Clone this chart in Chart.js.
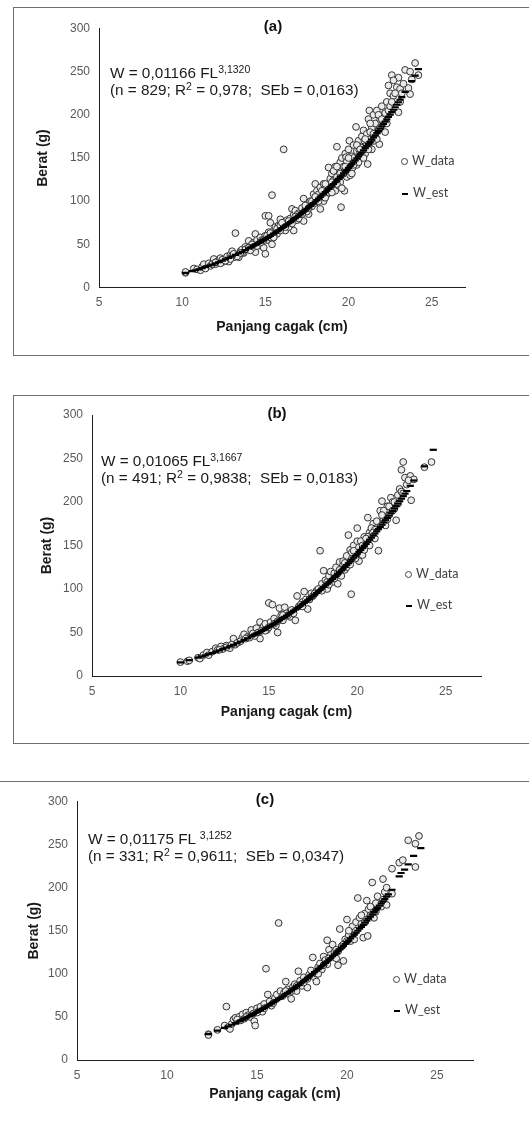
<!DOCTYPE html>
<html><head><meta charset="utf-8">
<script src="https://cdn.jsdelivr.net/npm/chart.js@4.4.1/dist/chart.umd.min.js"></script>
<style>
body{margin:0;background:#fff;width:529px;height:1123px;position:relative;overflow:hidden;font-family:"Liberation Sans",Arial,sans-serif;}
canvas{position:absolute;left:0;}
.box{position:absolute;border:1px solid #6e6e6e;}
.ttl{position:absolute;width:100px;text-align:center;font-weight:bold;font-size:15px;line-height:18px;color:#111;}
.ann{position:absolute;font-size:15.3px;line-height:17px;color:#1a1a1a;white-space:pre;}
.ann sup{font-size:10.5px;line-height:0;vertical-align:5px;}
.leg{position:absolute;font-family:Lato,"Open Sans",sans-serif;font-size:12.5px;color:#404040;line-height:16px;white-space:nowrap;}
.dot{display:inline-block;width:5px;height:5px;border:1px solid #404040;border-radius:50%;background:#fff;margin-right:4px;vertical-align:middle;}
.dash{display:inline-block;width:6px;height:2px;background:#000;margin-right:5px;vertical-align:middle;}
</style></head>
<body>
<div class="box" style="left:13px;top:7px;width:540px;height:347px;"></div>
<div class="box" style="left:13px;top:395px;width:540px;height:347px;"></div>
<div class="box" style="left:-5px;top:781px;width:560px;height:0;border-left:none;border-right:none;border-bottom:none;"></div>
<canvas id="cA" width="529" height="360" style="top:0px"></canvas>
<canvas id="cB" width="529" height="365" style="top:380px"></canvas>
<canvas id="cC" width="529" height="363" style="top:760px"></canvas>
<div id="overlay"></div>
<script>
// ---------- data ----------
const xTicks = [5, 10, 15, 20, 25];
const yTicks = [0, 50, 100, 150, 200, 250, 300];
const xTitle = 'Panjang cagak (cm)';
const yTitle = 'Berat (g)';
const panelTitles = ['(a)', '(b)', '(c)'];
const eqLines = ['W = 0,01166 FL', 'W = 0,01065 FL', 'W = 0,01175 FL '];
const eqExponents = ['3,1320', '3,1667', '3,1252'];
const statN = ['829', '491', '331'];
const statR2 = ['0,978', '0,9838', '0,9611'];
const statSEb = ['0,0163', '0,0183', '0,0347'];
const legendLabels = ['W_data', 'W_est'];

// Panel (a)
const aLen = [10.2,10.2,10.7,10.9,11.1,11.2,11.3,11.4,11.6,11.7,11.9,12.0,12.1,12.2,12.3,12.5,12.6,12.7,12.8,12.9,
13.0,13.1,13.2,13.3,13.4,13.5,13.6,13.7,13.8,13.9,14.0,14.1,14.2,14.3,14.4,14.4,14.5,14.6,14.7,14.8,
14.9,15.0,15.0,15.0,15.1,15.2,15.2,15.3,15.3,15.4,15.4,15.5,15.6,15.7,15.8,15.9,16.0,16.1,16.1,16.2,
16.3,16.4,16.5,16.6,16.7,16.7,16.8,16.9,17.0,17.1,17.2,17.3,17.3,17.4,17.5,17.6,17.7,17.8,17.9,18.0,
18.0,18.1,18.2,18.3,18.3,18.4,18.5,18.5,18.6,18.7,18.8,18.8,18.9,19.0,19.0,19.1,19.2,19.2,19.3,19.3,
19.4,19.4,19.5,19.5,19.55,19.6,19.6,19.7,19.75,19.8,19.85,19.9,20.0,20.0,20.05,20.1,20.2,20.25,20.3,20.4,
20.45,20.5,20.5,20.6,20.65,20.7,20.8,20.8,20.9,20.95,21.0,21.1,21.15,21.2,21.25,21.3,21.4,21.5,21.55,21.6,
21.7,21.8,21.85,21.9,22.0,22.1,22.2,22.2,22.3,22.4,22.4,22.5,22.6,22.7,22.9,23.0,23.0,23.1,23.2,23.4,
23.6,23.7,23.7,23.8,24.0,24.2,
19.0,19.3,19.7,19.9,20.1,20.3,20.6,20.9,21.1,21.3,21.4,21.6,21.9,22.1,18.1,18.6,17.5,16.9,16.4,15.9,
15.5,14.8,14.2,13.6,13.0,12.4,11.8,
12.0,12.3,12.6,12.9,13.1,13.3,13.5,13.8,14.0,14.1,14.3,14.5,14.7,14.9,15.1,15.3,15.5,15.7,15.9,16.0,
16.2,16.4,16.6,16.8,17.0,17.2,17.4,17.6,17.8,18.0,18.2,18.4,18.6,18.8,19.0,19.1,19.3,19.5,19.6,19.8,
20.0,20.2,20.3,20.5,20.7,20.9,21.0,21.2,21.3,21.5,21.7,21.8,22.0,22.3,22.5,22.6,22.8,23.1,23.3,22.7];
const aWt = [17,18,22,21,20,24,27,22,28,25,33,27,30,31,34,30,33,36,30,38,
42,35,63,38,35,42,44,40,47,45,54,48,44,52,62,41,55,50,58,48,
46,39,83,60,55,83,64,75,58,107,50,66,70,62,72,79,68,160,73,66,
78,72,80,91,66,84,89,78,86,80,92,103,77,90,96,85,100,94,108,120,
98,112,108,91,116,104,120,100,114,108,139,118,126,116,132,124,140,112,163,128,
135,118,145,122,93,150,130,140,112,155,151,128,160,138,170,145,152,139,165,148,
186,158,142,170,159,150,175,162,182,170,155,178,143,195,205,168,185,200,170,190,
205,182,166,195,210,200,180,202,215,234,205,225,246,222,232,243,203,230,225,252,
231,250,224,241,260,246,
122,120,132,146,130,150,145,160,165,180,160,178,185,190,100,104,88,84,70,66,
60,55,50,40,37,32,27,
29,28,31,33,39,36,40,44,46,43,47,48,52,55,60,63,58,68,72,75,
70,77,74,82,80,85,95,92,100,105,100,112,120,110,110,135,140,132,115,140,
150,132,142,165,160,150,172,160,190,178,172,200,195,190,210,215,225,215,236,240];
const aEstLen = [10.2,10.6,10.8,11.0,11.2,11.4,11.6,11.8,12.0,12.2,12.4,12.6,12.8,13.0,13.2,13.4,13.6,13.8,14.0,14.2,
14.4,14.6,14.8,15.0,15.2,15.4,15.6,15.8,16.0,16.2,16.4,16.6,16.8,17.0,17.2,17.4,17.6,17.8,18.0,18.2,
18.4,18.6,18.8,19.0,19.2,19.4,19.6,19.8,20.0,20.2,20.4,20.6,20.8,21.0,21.2,21.4,21.6,21.8,22.0,22.2,
22.4,22.6,22.8,23.0,23.2,23.4,23.8,24.0,24.2,
14.1,14.3,14.5,14.7,14.9,15.1,15.3,15.5,15.7,15.9,16.1,16.3,16.5,16.7,16.9,
17.1,17.3,17.5,17.7,17.9,18.1,18.3,18.5,18.7,18.9,19.1,19.3,19.5,19.7,19.9,20.1,20.3,20.5,20.7,20.9,
21.1,21.3,21.5,21.7,21.9,22.1,22.3,22.5,22.7,22.9,23.1];
const aEstWt = [17,19,20,21,22.5,23.8,25.2,26.5,28,29.5,31,32.6,34.2,35.9,37.7,39.5,41.3,43.3,45.3,47.3,
49.5,51.7,54,56.3,58.7,61.1,63.6,66.2,68.9,71.6,74.4,77.3,80.3,83.3,86.4,89.6,92.9,96.2,99.6,103.1,
106.7,110.4,114.2,118,121.9,125.9,130,134.2,138.5,142.9,147.3,151.9,156.6,161.4,166.2,171.2,176.3,181.5,186.7,192.1,
197.6,203.1,208.8,214.6,220.5,226.5,239,245.3,253,
46.3,48.4,50.6,52.8,55.1,57.5,59.9,62.3,64.9,67.5,70.2,73.0,75.8,78.8,81.8,
84.8,88.0,91.2,94.5,97.9,101.3,104.9,108.5,112.3,116.1,119.9,123.9,128.0,132.1,136.3,140.7,145.1,149.6,154.2,159.0,
163.8,168.7,173.8,178.9,184.1,189.4,194.8,200.3,205.9,211.7,217.5];

// Panel (b)
const bLen = [10.0,10.4,10.5,11.0,11.1,11.3,11.5,11.6,11.8,12.0,12.1,12.3,12.4,12.6,12.8,13.0,13.1,13.3,13.5,13.6,
13.8,14.0,14.1,14.3,14.4,14.5,14.5,14.7,14.8,14.9,15.0,15.1,15.2,15.3,15.4,15.5,15.6,15.7,15.8,15.9,
16.0,16.2,16.3,16.5,16.6,16.7,16.9,17.0,17.1,17.2,17.4,17.5,17.7,17.9,18.0,18.1,18.2,18.3,18.4,18.5,
18.6,18.7,18.8,18.9,19.0,19.1,19.2,19.3,19.4,19.5,19.5,19.6,19.66,19.7,19.8,19.9,20.0,20.0,20.1,20.2,
20.3,20.4,20.5,20.6,20.7,20.8,20.9,21.0,21.1,21.2,21.3,21.4,21.5,21.6,21.7,21.8,21.9,22.0,22.1,22.2,
22.3,22.4,22.5,22.5,22.6,22.7,22.8,23.0,23.05,23.2,23.8,24.2,
18.9,19.2,19.4,19.7,19.9,20.2,20.4,20.6,20.8,21.0,21.3,21.5,21.8,22.1,18.4,17.8,16.8,16.1,15.3,14.6,
13.9,13.2,12.6,
12.2,12.9,13.4,13.7,14.2,14.8,15.0,15.5,15.8,16.4,16.9,17.3,17.6,18.0,18.3,18.7,19.0,19.3,19.6,19.8,
20.1,20.3,20.5,20.7,20.9,21.1,21.4,21.7,22.0,22.3,22.6,22.9];
const bWt = [16,17,18,21,20,24,27,24,28,32,30,34,31,35,32,43,36,39,44,48,
45,53,49,55,50,62,43,57,60,53,84,62,82,66,58,50,78,70,64,79,
72,68,76,64,92,80,85,97,88,77,95,92,98,144,106,121,110,100,115,120,
108,118,125,106,131,115,128,122,138,162,130,145,94,135,150,140,170,155,132,148,
139,160,152,182,165,162,175,158,170,144,190,201,180,173,195,185,205,200,192,179,
208,215,212,237,246,228,220,230,202,226,240,246,
118,132,125,142,135,155,145,160,170,168,175,190,195,200,105,100,82,70,60,52,
44,38,33,
30,36,40,43,46,52,56,63,70,72,80,88,95,98,108,112,122,130,128,144,
148,150,158,150,165,178,185,180,190,198,210,225];
const bEstLen = [10.0,10.5,11.0,11.2,11.4,11.6,11.8,12.0,12.2,12.4,12.6,12.8,13.0,13.2,13.4,13.6,13.8,14.0,14.2,14.4,
14.6,14.8,15.0,15.2,15.4,15.6,15.8,16.0,16.2,16.4,16.6,16.8,17.0,17.2,17.4,17.6,17.8,18.0,18.2,18.4,
18.6,18.8,19.0,19.2,19.4,19.6,19.8,20.0,20.2,20.4,20.6,20.8,21.0,21.2,21.4,21.6,21.8,22.0,22.2,22.4,
22.6,22.8,23.0,23.2,23.8,24.3,
14.1,14.3,14.5,14.7,14.9,15.1,15.3,15.5,15.7,15.9,16.1,16.3,16.5,16.7,16.9,17.1,17.3,17.5,17.7,17.9,
18.1,18.3,18.5,18.7,18.9,19.1,19.3,19.5,19.7,19.9,20.1,20.3,20.5,20.7,20.9,21.1,21.3,21.5,21.7,21.9,
22.1,22.3,22.5,22.7];
const bEstWt = [15.6,18.2,21.1,22.4,23.7,25.1,26.5,27.9,29.4,31.0,32.6,34.2,35.9,37.7,39.5,41.4,43.4,45.4,47.5,49.6,
51.8,54.1,56.5,58.9,61.4,64.0,66.6,69.3,72.1,75.0,77.9,80.9,83.9,87.1,90.3,93.7,97.1,100.6,104.2,107.8,
111.6,115.4,119.3,123.3,127.5,131.7,136.0,140.4,144.9,149.5,154.2,159.0,163.8,168.8,173.9,179.1,184.4,189.8,195.3,200.9,
206.7,212.6,218.6,224.7,241,260,
46.4,48.5,50.7,52.9,55.3,57.7,60.1,62.7,65.3,67.9,70.7,73.5,76.4,79.4,82.4,85.5,88.7,92.0,95.4,98.8,
102.4,106.0,109.7,113.5,117.3,121.3,125.4,129.6,133.8,138.2,142.6,147.2,151.8,156.6,161.4,166.3,171.3,176.5,181.7,187.1,
192.5,198.1,203.8,209.6];

// Panel (c)
const cLen = [12.3,12.3,12.8,13.2,13.3,13.4,13.5,13.6,13.7,13.8,13.9,14.0,14.1,14.2,14.3,14.4,14.5,14.6,14.7,14.8,
14.85,14.9,15.0,15.1,15.2,15.3,15.4,15.5,15.6,15.7,15.8,16.0,16.1,16.2,16.3,16.4,16.5,16.6,16.7,16.8,
16.9,17.0,17.1,17.2,17.3,17.4,17.5,17.6,17.8,17.9,18.0,18.1,18.2,18.3,18.4,18.5,18.6,18.7,18.8,18.9,
18.9,19.0,19.1,19.2,19.3,19.4,19.5,19.6,19.7,19.8,19.9,20.0,20.1,20.2,20.3,20.4,20.5,20.6,20.7,20.8,
20.9,21.0,21.1,21.15,21.2,21.3,21.4,21.5,21.6,21.7,21.9,22.0,22.1,22.2,22.2,22.5,22.5,22.9,23.1,23.4,
23.8,23.8,24.0,
19.4,19.8,20.1,20.4,20.8,21.0,21.3,21.6,18.7,18.3,17.6,16.9,
13.9,14.4,15.0,15.4,15.9,16.6,17.2,17.8,18.4,19.0,19.5,20.0,20.5,21.0,21.5,22.0];
const cWt = [30,29,35,40,62,38,36,42,47,49,45,50,46,53,48,55,52,50,58,54,
45,40,60,57,62,56,65,106,76,68,63,72,76,159,80,74,78,91,82,76,
71,85,88,80,103,92,86,96,84,99,104,119,96,91,108,112,105,120,116,139,
111,128,122,134,125,118,110,152,132,115,140,163,145,138,155,148,160,188,165,158,
142,170,185,144,175,168,206,165,182,190,178,210,195,200,180,193,222,229,232,255,
251,224,260,
128,134,150,140,168,160,178,172,110,100,90,80,
47,50,55,60,66,80,86,94,100,118,126,138,150,160,172,186];
const cEstLen = [12.3,12.8,13.2,13.4,13.6,13.8,14.0,14.2,14.4,14.6,14.8,15.0,15.2,15.4,15.6,15.8,16.0,16.2,16.4,16.6,
16.8,17.0,17.2,17.4,17.6,17.8,18.0,18.2,18.4,18.6,18.8,19.0,19.2,19.4,19.6,19.8,20.0,20.2,20.4,20.6,
20.8,21.0,21.2,21.4,21.6,21.8,22.0,22.2,22.5,22.9,23.0,23.2,23.4,23.7,24.1,
14.1,14.3,14.5,14.7,14.9,15.1,15.3,15.5,15.7,15.9,16.1,16.3,16.5,16.7,16.9,17.1,17.3,17.5,17.7,17.9,
18.1,18.3,18.5,18.7,18.9,19.1,19.3,19.5,19.7,19.9,20.1,20.3,20.5,20.7,20.9,21.1,21.3,21.5,21.7,21.9,
22.1,22.3];
const cEstWt = [30,34,37.3,39.1,40.9,42.8,44.9,46.9,49.1,51.3,53.5,55.7,58.1,60.5,63,65.5,68.1,70.8,73.6,76.4,
79.3,82.3,85.4,88.5,91.7,95,98.4,101.9,105.4,109,112.7,116.5,120.4,124.3,128.4,132.5,136.8,141.1,145.5,150,
154.6,159.3,164.1,169,174,179.1,184.2,189.5,197.6,213,217,221,227,237,246,
45.9,48.0,50.2,52.4,54.6,56.9,59.3,61.7,64.2,66.8,69.4,72.2,75.0,77.8,80.8,83.8,86.9,90.1,93.3,96.7,
100.1,103.6,107.2,110.8,114.6,118.4,122.3,126.3,130.4,134.6,138.9,143.3,147.7,152.3,156.9,161.7,166.5,171.5,176.5,181.6,
186.8,192.2];

// ---------- layout (page coordinates) ----------
const panels = [
  {id:'cA', top:0,   H:360, left:99, right:465, pTop:28.5, pBottom:287.5, yTitleX:43, xTitleY:327,
   ttl:[273,26], ann:[110,72], leg:[401,161,193], len:aLen, wt:aWt, eLen:aEstLen, eWt:aEstWt},
  {id:'cB', top:380, H:365, left:92, right:481, pTop:35,   pBottom:296,   yTitleX:47, xTitleY:332,
   ttl:[277,413], ann:[101,460], leg:[405,574,605], len:bLen, wt:bWt, eLen:bEstLen, eWt:bEstWt},
  {id:'cC', top:760, H:363, left:77, right:473, pTop:41.5, pBottom:300,   yTitleX:34, xTitleY:334,
   ttl:[265,799], ann:[88,838], leg:[393,979,1010], len:cLen, wt:cWt, eLen:cEstLen, eWt:cEstWt}
];

function pts(xs, ys) { return xs.map((x, i) => ({x: x, y: ys[i]})); }

const overlay = document.getElementById('overlay');
panels.forEach((g, k) => {
  const lh = 14 * 1.2;
  new Chart(document.getElementById(g.id), {
    type: 'scatter',
    data: {datasets: [
      {label: legendLabels[1], data: pts(g.eLen, g.eWt), order: 0,
       pointStyle: 'line', pointRadius: 3.6, pointBorderWidth: 2.2,
       pointBorderColor: '#000', pointBackgroundColor: '#000'},
      {label: legendLabels[0], data: pts(g.len, g.wt), order: 1,
       pointStyle: 'circle', pointRadius: 3.4, pointBorderWidth: 1,
       pointBorderColor: '#333', pointBackgroundColor: '#ebebeb'}
    ]},
    options: {
      responsive: false, animation: false, devicePixelRatio: 1,
      events: [],
      layout: {padding: {left: 0, top: g.pTop, right: 529 - g.right, bottom: 0}},
      plugins: {legend: {display: false}, tooltip: {enabled: false}, title: {display: false}},
      scales: {
        x: {type: 'linear', position: 'bottom', min: 5, max: 27,
          afterBuildTicks: s => { s.ticks = xTicks.map(v => ({value: v})); },
          afterFit: s => { s.height = g.H - g.pBottom; },
          grid: {display: false, drawTicks: false},
          border: {display: true, color: '#1f1f1f', width: 1},
          ticks: {font: {family: 'Liberation Sans', size: 12}, color: '#595959', padding: 8, maxRotation: 0, autoSkip: false},
          title: {display: true, text: xTitle, color: '#1a1a1a',
                  font: {family: 'Liberation Sans', size: 14, weight: 'bold'},
                  padding: {top: 0, bottom: (g.H - g.xTitleY) - lh / 2}}
        },
        y: {type: 'linear', position: 'left', min: 0, max: 300,
          afterBuildTicks: s => { s.ticks = yTicks.map(v => ({value: v})); },
          afterFit: s => { s.width = g.left; },
          grid: {display: false, drawTicks: false},
          border: {display: true, color: '#1f1f1f', width: 1},
          ticks: {font: {family: 'Liberation Sans', size: 12}, color: '#595959', padding: 9, autoSkip: false},
          title: {display: true, text: yTitle, color: '#1a1a1a',
                  font: {family: 'Liberation Sans', size: 14, weight: 'bold'},
                  padding: {top: g.yTitleX - lh / 2, bottom: 0}}
        }
      }
    }
  });

  const t = document.createElement('div');
  t.className = 'ttl';
  t.style.left = (g.ttl[0] - 50) + 'px';
  t.style.top = (g.ttl[1] - 9) + 'px';
  t.textContent = panelTitles[k];
  overlay.appendChild(t);

  const a = document.createElement('div');
  a.className = 'ann';
  a.style.left = g.ann[0] + 'px';
  a.style.top = (g.ann[1] - 8.5) + 'px';
  a.innerHTML = eqLines[k] + '<sup>' + eqExponents[k] + '</sup>\n' +
    '(n = ' + statN[k] + '; R<sup>2</sup> = ' + statR2[k] + ';  SEb = ' + statSEb[k] + ')';
  overlay.appendChild(a);

  const l1 = document.createElement('div');
  l1.className = 'leg';
  l1.style.left = g.leg[0] + 'px';
  l1.style.top = (g.leg[1] - 8) + 'px';
  l1.innerHTML = '<span class="dot"></span>' + legendLabels[0];
  overlay.appendChild(l1);
  const l2 = document.createElement('div');
  l2.className = 'leg';
  l2.style.left = (g.leg[0] + 1) + 'px';
  l2.style.top = (g.leg[2] - 8) + 'px';
  l2.innerHTML = '<span class="dash"></span>' + legendLabels[1];
  overlay.appendChild(l2);
});
</script>
</body></html>
